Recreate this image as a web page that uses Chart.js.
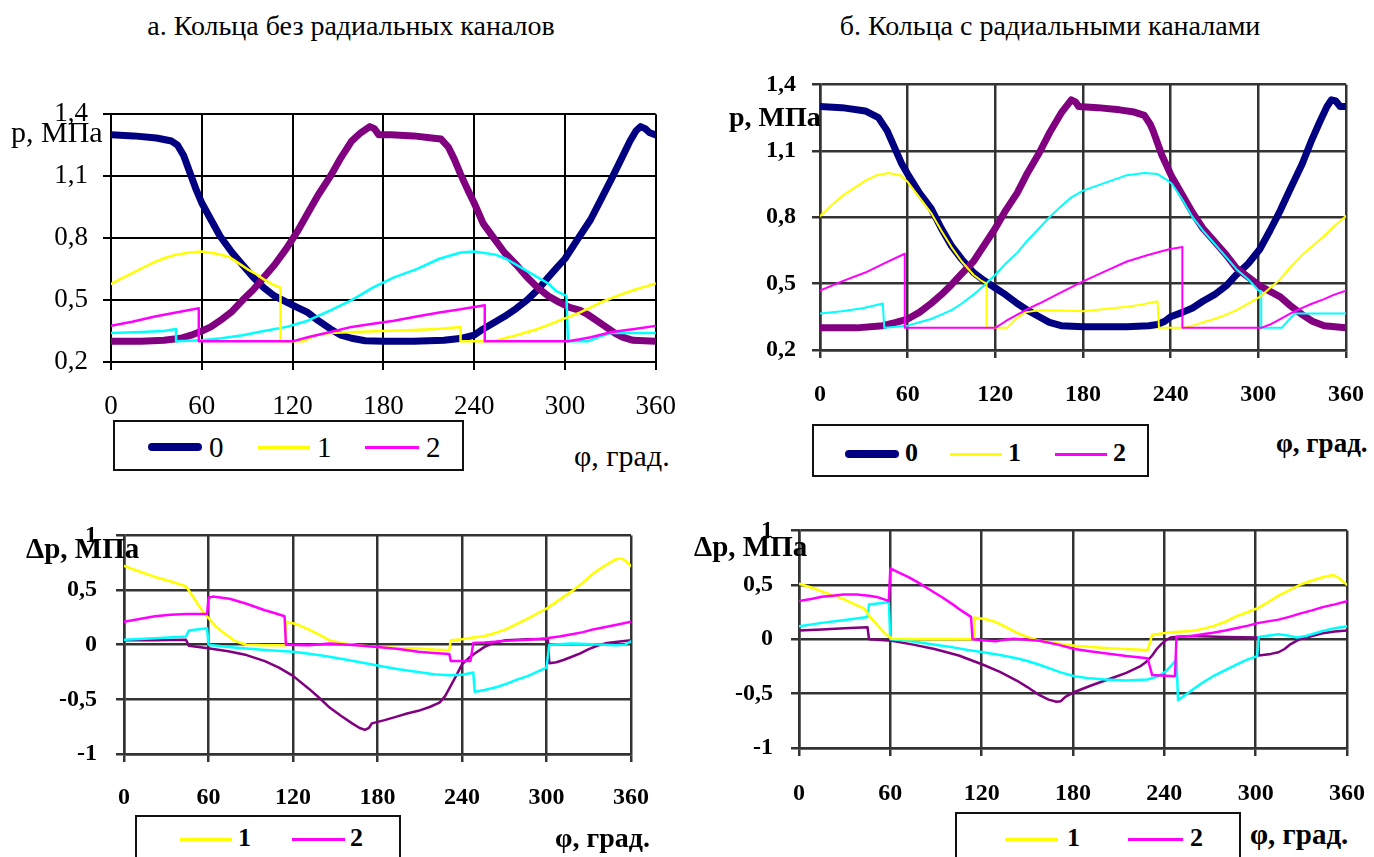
<!DOCTYPE html>
<html>
<head>
<meta charset="utf-8">
<script src="https://cdn.jsdelivr.net/npm/chart.js@4.4.0/dist/chart.umd.min.js"></script>
<style>
  body { margin: 0; background: #fff; width: 1374px; height: 857px; overflow: hidden; position: relative;
         font-family: 'Liberation Serif', 'Times New Roman', serif; color: #000; }
  .title { position: absolute; top: 10px; font-size: 28px; white-space: nowrap; transform: translateX(-50%); }
  .ylab { position: absolute; white-space: nowrap; line-height: 1; }
  .legend { position: absolute; border: 2px solid #111; background: #fff; box-sizing: border-box; z-index: 5; }
  .lg-line { position: absolute; height: 3px; }
  .lg-txt { position: absolute; line-height: 1; }
  .bold { font-weight: bold; }
  canvas { position: absolute; }
</style>
</head>
<body>

<div class="title" style="left:351px">а. Кольца без радиальных каналов</div>
<div class="title" style="left:1050px">б. Кольца с радиальными каналами</div>

<canvas id="chartA"></canvas>
<canvas id="chartB"></canvas>
<canvas id="chartC"></canvas>
<canvas id="chartD"></canvas>

<div class="ylab" style="left:11px; top:117px; font-size:30px">p, МПа</div>
<div class="ylab bold" style="left:729px; top:103px; font-size:28px">p, МПа</div>
<div class="ylab bold" style="left:26px; top:534px; font-size:29px">Δp, МПа</div>
<div class="ylab bold" style="left:694px; top:532px; font-size:29px">Δp, МПа</div>

<!-- легенды -->
<div class="legend" style="left:113px; top:420px; width:351px; height:51px">
  <div class="lg-line" style="left:33px; top:21px; width:54px; height:8px; border-radius:4px; background:#000080"></div>
  <div class="lg-txt" style="left:94px; top:11px; font-size:29px">0</div>
  <div class="lg-line" style="left:143px; top:24px; width:52px; background:#ffff00"></div>
  <div class="lg-txt" style="left:202px; top:11px; font-size:29px">1</div>
  <div class="lg-line" style="left:250px; top:24px; width:54px; background:#ff00ff"></div>
  <div class="lg-txt" style="left:311px; top:11px; font-size:29px">2</div>
</div>
<div class="ylab" style="left:574px; top:441px; font-size:30px">φ, град.</div>

<div class="legend" style="left:812px; top:424px; width:337px; height:53px">
  <div class="lg-line" style="left:31px; top:24px; width:54px; height:8px; border-radius:4px; background:#000080"></div>
  <div class="lg-txt bold" style="left:91px; top:14px; font-size:26px">0</div>
  <div class="lg-line" style="left:136px; top:27px; width:52px; background:#ffff00"></div>
  <div class="lg-txt bold" style="left:194px; top:14px; font-size:26px">1</div>
  <div class="lg-line" style="left:241px; top:27px; width:52px; background:#ff00ff"></div>
  <div class="lg-txt bold" style="left:299px; top:14px; font-size:26px">2</div>
</div>
<div class="ylab bold" style="left:1276px; top:430px; font-size:27px">φ, град.</div>

<div class="legend" style="left:135px; top:815px; width:266px; height:60px">
  <div class="lg-line" style="left:43px; top:21px; width:52px; background:#ffff00"></div>
  <div class="lg-txt bold" style="left:101px; top:8px; font-size:26px">1</div>
  <div class="lg-line" style="left:155px; top:21px; width:53px; background:#ff00ff"></div>
  <div class="lg-txt bold" style="left:213px; top:8px; font-size:26px">2</div>
</div>
<div class="ylab bold" style="left:555px; top:824px; font-size:28px">φ, град.</div>

<div class="legend" style="left:955px; top:812px; width:286px; height:60px">
  <div class="lg-line" style="left:48px; top:24px; width:53px; background:#ffff00"></div>
  <div class="lg-txt bold" style="left:110px; top:11px; font-size:26px">1</div>
  <div class="lg-line" style="left:171px; top:24px; width:55px; background:#ff00ff"></div>
  <div class="lg-txt bold" style="left:233px; top:11px; font-size:26px">2</div>
</div>
<div class="ylab bold" style="left:1250px; top:820px; font-size:29px">φ, град.</div>

<script>
// --- ОСИ ---
const angleTicks = [0, 60, 120, 180, 240, 300, 360];
const angleLabels = ['0', '60', '120', '180', '240', '300', '360'];
const pTicks = [0.2, 0.5, 0.8, 1.1, 1.4];
const pLabels = ['0,2', '0,5', '0,8', '1,1', '1,4'];
const dpTicks = [-1, -0.5, 0, 0.5, 1];
const dpLabels = ['-1', '-0,5', '0', '0,5', '1'];

// --- а. давление, кольца без радиальных каналов ---
const a0 = [[0,1.30],[15,1.295],[30,1.285],[40,1.27],[44,1.25],[48,1.20],[52,1.12],[56,1.04],[60,0.97],[66,0.89],[72,0.81],[80,0.73],[87,0.67],[94,0.61],[101,0.56],[108,0.52],[116,0.49],[123,0.465],[130,0.44],[137,0.40],[145,0.36],[152,0.33],[159,0.315],[168,0.303],[180,0.30],[200,0.30],[220,0.305],[232,0.315],[240,0.33],[246,0.36],[253,0.39],[260,0.42],[268,0.46],[275,0.50],[282,0.55],[289,0.61],[295,0.66],[300,0.70],[308,0.79],[317,0.89],[324,0.99],[331,1.09],[337,1.18],[343,1.27],[347,1.32],[350,1.34],[353,1.33],[356,1.31],[360,1.30]];
const a1 = [[0,0.578],[7,0.605],[14,0.63],[22,0.66],[29,0.685],[36,0.705],[43,0.72],[52,0.73],[60,0.735],[69,0.725],[78,0.71],[84,0.68],[90,0.65],[96,0.625],[101,0.60],[107,0.575],[112,0.56],[112,0.30],[127,0.30],[135,0.33],[145,0.34],[160,0.345],[180,0.35],[200,0.355],[215,0.36],[231,0.37],[231,0.30],[252,0.30],[260,0.315],[268,0.33],[275,0.345],[282,0.36],[289,0.38],[296,0.40],[303,0.42],[310,0.44],[317,0.465],[324,0.49],[331,0.51],[338,0.53],[346,0.55],[353,0.565],[360,0.58]];
const a2 = [[0,0.375],[14,0.395],[29,0.42],[43,0.44],[58,0.46],[58,0.30],[120,0.30],[130,0.32],[145,0.345],[159,0.37],[173,0.385],[187,0.40],[202,0.42],[217,0.44],[231,0.455],[247,0.475],[247,0.30],[302,0.30],[310,0.31],[317,0.32],[331,0.345],[346,0.36],[360,0.375]];
const a0s = [[0,0.30],[20,0.30],[35,0.305],[46,0.315],[53,0.33],[60,0.35],[66,0.37],[72,0.40],[80,0.445],[87,0.50],[94,0.55],[101,0.61],[108,0.67],[116,0.75],[123,0.83],[130,0.92],[137,1.01],[145,1.10],[152,1.19],[159,1.27],[165,1.31],[171,1.34],[174,1.33],[177,1.30],[185,1.30],[200,1.295],[212,1.285],[218,1.28],[223,1.24],[227,1.18],[231,1.11],[236,1.03],[240,0.97],[246,0.87],[253,0.80],[260,0.73],[268,0.67],[275,0.61],[282,0.56],[289,0.52],[296,0.49],[303,0.465],[310,0.45],[315,0.43],[321,0.40],[327,0.37],[333,0.34],[338,0.32],[345,0.305],[360,0.30]];
const a1s = [[0,0.34],[20,0.345],[35,0.35],[43,0.36],[43,0.30],[60,0.305],[73,0.315],[87,0.33],[101,0.35],[116,0.37],[130,0.40],[145,0.45],[159,0.50],[173,0.56],[187,0.61],[202,0.65],[217,0.70],[231,0.73],[240,0.735],[254,0.72],[261,0.70],[268,0.67],[275,0.64],[282,0.61],[289,0.58],[294,0.545],[301,0.52],[302,0.30],[315,0.30],[322,0.32],[330,0.34],[345,0.34],[360,0.34]];

// --- б. давление, кольца с радиальными каналами ---
const b0 = [[0,1.30],[15,1.295],[31,1.28],[40,1.25],[46,1.19],[52,1.10],[56,1.04],[60,0.995],[68,0.91],[76,0.84],[83,0.75],[90,0.67],[97,0.61],[105,0.55],[112,0.515],[120,0.48],[127,0.45],[135,0.41],[142,0.38],[150,0.35],[157,0.325],[165,0.31],[180,0.305],[210,0.305],[225,0.31],[231,0.315],[236,0.33],[240,0.35],[248,0.37],[255,0.39],[262,0.42],[270,0.45],[278,0.49],[285,0.54],[293,0.59],[301,0.655],[308,0.74],[315,0.83],[322,0.93],[330,1.04],[336,1.14],[342,1.23],[347,1.30],[350,1.33],[353,1.325],[356,1.30],[360,1.30]];
const b1 = [[0,0.805],[8,0.855],[16,0.90],[24,0.935],[31,0.965],[39,0.99],[47,1.00],[55,0.99],[60,0.96],[68,0.89],[76,0.82],[83,0.74],[90,0.665],[97,0.60],[105,0.54],[110,0.515],[114,0.50],[114,0.30],[128,0.30],[134,0.34],[140,0.37],[150,0.38],[165,0.378],[180,0.375],[195,0.385],[210,0.395],[220,0.405],[231,0.42],[232,0.30],[248,0.30],[255,0.31],[262,0.325],[270,0.34],[278,0.36],[285,0.38],[293,0.41],[301,0.44],[308,0.48],[315,0.52],[322,0.575],[330,0.63],[337,0.67],[345,0.715],[352,0.76],[360,0.805]];
const b2 = [[0,0.468],[15,0.51],[31,0.55],[45,0.595],[58,0.635],[58,0.30],[120,0.30],[127,0.33],[135,0.36],[142,0.385],[150,0.41],[165,0.46],[180,0.51],[195,0.555],[210,0.60],[225,0.63],[239,0.655],[248,0.665],[248,0.30],[302,0.30],[308,0.315],[315,0.34],[322,0.365],[330,0.39],[337,0.41],[345,0.43],[352,0.45],[360,0.468]];
const b0s = [[0,0.30],[25,0.30],[43,0.31],[52,0.325],[60,0.34],[68,0.37],[76,0.41],[83,0.45],[90,0.495],[97,0.545],[105,0.60],[112,0.67],[120,0.75],[127,0.83],[135,0.91],[142,1.00],[150,1.09],[157,1.18],[165,1.27],[172,1.33],[175,1.32],[177,1.30],[190,1.295],[205,1.285],[215,1.275],[222,1.26],[226,1.22],[228,1.19],[234,1.08],[241,0.98],[248,0.90],[255,0.82],[262,0.75],[270,0.69],[278,0.63],[285,0.57],[293,0.53],[301,0.49],[308,0.465],[315,0.44],[322,0.40],[330,0.36],[337,0.33],[345,0.31],[360,0.30]];
const b1s = [[0,0.365],[15,0.375],[30,0.39],[43,0.41],[44,0.30],[60,0.31],[68,0.325],[76,0.34],[83,0.36],[90,0.38],[97,0.41],[105,0.45],[112,0.49],[120,0.54],[127,0.59],[135,0.64],[142,0.695],[150,0.75],[157,0.80],[165,0.85],[172,0.89],[180,0.92],[195,0.955],[210,0.99],[222,1.00],[231,0.995],[237,0.97],[241,0.95],[248,0.88],[255,0.80],[262,0.74],[270,0.68],[278,0.62],[285,0.565],[293,0.52],[300,0.47],[302,0.465],[302,0.30],[316,0.30],[320,0.33],[325,0.365],[360,0.365]];

// --- а. перепад давления ---
const c1 = [[0,0.72],[11,0.67],[22,0.62],[33,0.58],[44,0.535],[50,0.42],[56,0.30],[61,0.23],[65,0.17],[69,0.125],[74,0.08],[78,0.04],[83,0.015],[87,0],[100,-0.005],[115,-0.005],[115,0.21],[122,0.19],[131,0.14],[139,0.09],[146,0.04],[156,0.01],[170,-0.01],[180,-0.02],[195,-0.03],[209,-0.035],[220,-0.045],[231,-0.05],[232,0.04],[240,0.05],[248,0.065],[256,0.08],[264,0.11],[271,0.14],[279,0.19],[287,0.24],[294,0.29],[300,0.33],[309,0.41],[318,0.49],[326,0.57],[333,0.65],[341,0.72],[349,0.78],[353,0.79],[356,0.77],[360,0.72]];
const c2 = [[0,0.21],[11,0.235],[22,0.26],[33,0.275],[44,0.28],[59,0.28],[60,0.43],[63,0.44],[75,0.42],[87,0.375],[100,0.315],[108,0.285],[114,0.26],[115,0],[131,-0.005],[146,0.01],[165,-0.005],[180,-0.02],[195,-0.04],[209,-0.065],[220,-0.075],[231,-0.085],[232,-0.15],[246,-0.15],[248,0.015],[256,0.02],[271,0.035],[287,0.045],[300,0.06],[309,0.075],[318,0.095],[326,0.115],[333,0.14],[341,0.16],[349,0.18],[360,0.21]];
const c1s = [[0,0.045],[22,0.06],[44,0.075],[46,0.13],[59,0.15],[60,0],[74,-0.02],[87,-0.035],[103,-0.05],[120,-0.065],[133,-0.085],[146,-0.11],[163,-0.15],[180,-0.19],[195,-0.225],[209,-0.25],[220,-0.27],[231,-0.28],[240,-0.275],[248,-0.255],[249,-0.43],[256,-0.415],[264,-0.39],[271,-0.36],[279,-0.32],[287,-0.285],[294,-0.245],[300,-0.21],[302,0],[318,0.01],[333,0.005],[349,-0.005],[356,0],[360,0.03]];
const c2s = [[0,0.04],[22,0.04],[44,0.045],[46,-0.01],[61,-0.035],[74,-0.06],[87,-0.095],[100,-0.15],[110,-0.21],[120,-0.285],[131,-0.40],[139,-0.49],[146,-0.575],[154,-0.65],[162,-0.72],[167,-0.76],[171,-0.78],[174,-0.76],[176,-0.72],[185,-0.69],[193,-0.66],[201,-0.63],[209,-0.605],[217,-0.57],[224,-0.53],[228,-0.47],[231,-0.40],[236,-0.28],[240,-0.18],[245,-0.12],[249,-0.08],[256,-0.02],[263,0.02],[271,0.04],[287,0.05],[301,0.05],[302,-0.17],[307,-0.16],[312,-0.14],[318,-0.11],[324,-0.08],[330,-0.04],[337,-0.005],[343,0.015],[349,0.025],[360,0.04]];

// --- б. перепад давления ---
const d1 = [[0,0.51],[8,0.475],[15,0.44],[22,0.405],[29,0.37],[36,0.325],[43,0.28],[47,0.20],[52,0.12],[56,0.06],[61,0.005],[80,0],[100,0],[115,0],[115,0.20],[122,0.185],[129,0.16],[136,0.11],[143,0.06],[150,0.02],[158,-0.015],[170,-0.04],[181,-0.06],[201,-0.08],[215,-0.09],[229,-0.10],[232,0.04],[237,0.05],[244,0.065],[258,0.075],[265,0.095],[272,0.12],[280,0.16],[287,0.21],[295,0.25],[302,0.29],[308,0.34],[315,0.40],[322,0.45],[329,0.50],[337,0.54],[344,0.57],[351,0.59],[355,0.56],[360,0.50]];
const d2 = [[0,0.35],[8,0.37],[15,0.39],[22,0.40],[29,0.41],[38,0.41],[46,0.40],[52,0.385],[55,0.37],[59,0.35],[60,0.65],[66,0.61],[72,0.57],[79,0.515],[86,0.455],[94,0.385],[101,0.32],[107,0.26],[113,0.205],[114,0],[121,-0.01],[129,-0.02],[135,-0.005],[141,0.005],[150,-0.005],[158,-0.015],[170,-0.05],[181,-0.09],[191,-0.11],[201,-0.13],[215,-0.155],[229,-0.175],[232,-0.33],[247,-0.34],[248,0.02],[258,0.03],[265,0.045],[272,0.06],[280,0.08],[287,0.10],[295,0.125],[302,0.15],[315,0.18],[322,0.205],[329,0.235],[337,0.265],[344,0.295],[352,0.32],[360,0.35]];
const d1s = [[0,0.12],[15,0.15],[29,0.175],[45,0.205],[46,0.32],[59,0.34],[60,0],[72,-0.015],[86,-0.045],[101,-0.075],[111,-0.10],[121,-0.12],[132,-0.145],[143,-0.175],[150,-0.20],[158,-0.235],[165,-0.27],[172,-0.305],[181,-0.34],[191,-0.36],[201,-0.37],[215,-0.38],[229,-0.37],[236,-0.34],[241,-0.295],[248,-0.19],[249,-0.56],[253,-0.52],[258,-0.47],[265,-0.40],[272,-0.34],[280,-0.285],[287,-0.235],[294,-0.19],[301,-0.155],[302,0.02],[309,0.035],[315,0.045],[321,0.035],[327,0.015],[333,0.03],[344,0.075],[352,0.10],[360,0.12]];
const d2s = [[0,0.08],[15,0.09],[30,0.10],[45,0.11],[46,0],[61,-0.015],[75,-0.05],[89,-0.09],[105,-0.15],[121,-0.235],[132,-0.30],[143,-0.38],[150,-0.44],[158,-0.515],[164,-0.555],[169,-0.575],[172,-0.57],[175,-0.53],[181,-0.485],[191,-0.43],[201,-0.38],[208,-0.345],[215,-0.31],[224,-0.25],[228,-0.21],[232,-0.15],[235,-0.09],[238,-0.045],[241,-0.01],[244,0.015],[250,0.025],[258,0.03],[280,0.02],[302,0.015],[302,-0.15],[310,-0.135],[315,-0.12],[319,-0.09],[323,-0.045],[329,0.0],[337,0.03],[344,0.055],[352,0.07],[360,0.08]];

// --- ЦВЕТА ---
const NAVY = '#000080', YELLOW = '#ffff00', MAGENTA = '#ff00ff', CYAN = '#00ffff', PURPLE = '#800080';
const SERIF = "'Liberation Serif', 'Times New Roman', serif";

// поля вокруг области графика
const PAD_L = 110, PAD_T = 25, PAD_R = 40, PAD_B = 70;

const toPoints = arr => arr.map(([x, y]) => ({ x, y }));

const line = (data, color, width, order) => ({
    data: toPoints(data), borderColor: color, borderWidth: width, order,
    pointRadius: 0, tension: 0, fill: false,
    borderJoinStyle: 'round', borderCapStyle: 'round'
});

const createChart = (id, area, datasets, axis) => {
    const canvas = document.getElementById(id);
    const w = area.r - area.l + PAD_L + PAD_R;
    const h = area.b - area.t + PAD_T + PAD_B;
    canvas.width = w; canvas.height = h;
    canvas.style.left = (area.l - PAD_L) + 'px';
    canvas.style.top = (area.t - PAD_T) + 'px';
    canvas.style.width = w + 'px'; canvas.style.height = h + 'px';

    const font = { family: SERIF, size: axis.fontSize, weight: axis.bold ? 'bold' : 'normal' };
    const grid = { color: axis.gridColor, lineWidth: axis.gridWidth, tickLength: 8, drawTicks: true };
    const border = { color: axis.gridColor, width: axis.gridWidth };

    return new Chart(canvas, {
        type: 'line',
        data: { datasets },
        options: {
            responsive: false, animation: false, devicePixelRatio: 1,
            layout: { padding: { left: 0, top: PAD_T, right: PAD_R, bottom: 0 } },
            plugins: { legend: { display: false }, tooltip: { enabled: false } },
            scales: {
                x: {
                    type: 'linear', min: 0, max: 360,
                    grid, border,
                    ticks: { font, color: '#000', padding: axis.xPad,
                             callback: v => angleLabels[angleTicks.indexOf(v)] ?? '' },
                    afterBuildTicks: s => { s.ticks = angleTicks.map(v => ({ value: v })); },
                    afterFit: s => { s.height = PAD_B; }
                },
                y: {
                    min: axis.yTicks[0], max: axis.yTicks[axis.yTicks.length - 1],
                    grid, border,
                    ticks: { font, color: '#000', padding: axis.yPad,
                             callback: v => axis.yLabels[axis.yTicks.findIndex(t => Math.abs(t - v) < 1e-6)] ?? '' },
                    afterBuildTicks: s => { s.ticks = axis.yTicks.map(v => ({ value: v })); },
                    afterFit: s => { s.width = PAD_L; }
                }
            }
        }
    });
};

// --- ГРАФИКИ ---
createChart('chartA', { l: 111, t: 108, r: 657, b: 362 }, [
    line(a0, NAVY, 7, 5), line(a0s, PURPLE, 7, 4),
    line(a1s, CYAN, 2.5, 3), line(a1, YELLOW, 2.5, 2), line(a2, MAGENTA, 2.5, 1)
], { yTicks: pTicks, yLabels: pLabels, fontSize: 27, bold: false, gridColor: '#000', gridWidth: 2, xPad: 21, yPad: 15 });

createChart('chartB', { l: 820, t: 79, r: 1346, b: 350 }, [
    line(b0, NAVY, 7, 5), line(b0s, PURPLE, 7, 4),
    line(b1s, CYAN, 2, 3), line(b1, YELLOW, 2, 2), line(b2, MAGENTA, 2, 1)
], { yTicks: pTicks, yLabels: pLabels, fontSize: 24, bold: true, gridColor: '#333', gridWidth: 2.5, xPad: 22, yPad: 16 });

createChart('chartC', { l: 124, t: 527, r: 631, b: 754 }, [
    line(c2s, PURPLE, 2.5, 4), line(c1s, CYAN, 2.5, 3),
    line(c1, YELLOW, 2.5, 2), line(c2, MAGENTA, 2.5, 1)
], { yTicks: dpTicks, yLabels: dpLabels, fontSize: 24, bold: true, gridColor: '#333', gridWidth: 2.5, xPad: 21, yPad: 19 });

createChart('chartD', { l: 799, t: 523, r: 1348, b: 748 }, [
    line(d2s, PURPLE, 2.5, 4), line(d1s, CYAN, 2.5, 3),
    line(d1, YELLOW, 2.5, 2), line(d2, MAGENTA, 2.5, 1)
], { yTicks: dpTicks, yLabels: dpLabels, fontSize: 24, bold: true, gridColor: '#333', gridWidth: 2.5, xPad: 23, yPad: 18 });
</script>
</body>
</html>
